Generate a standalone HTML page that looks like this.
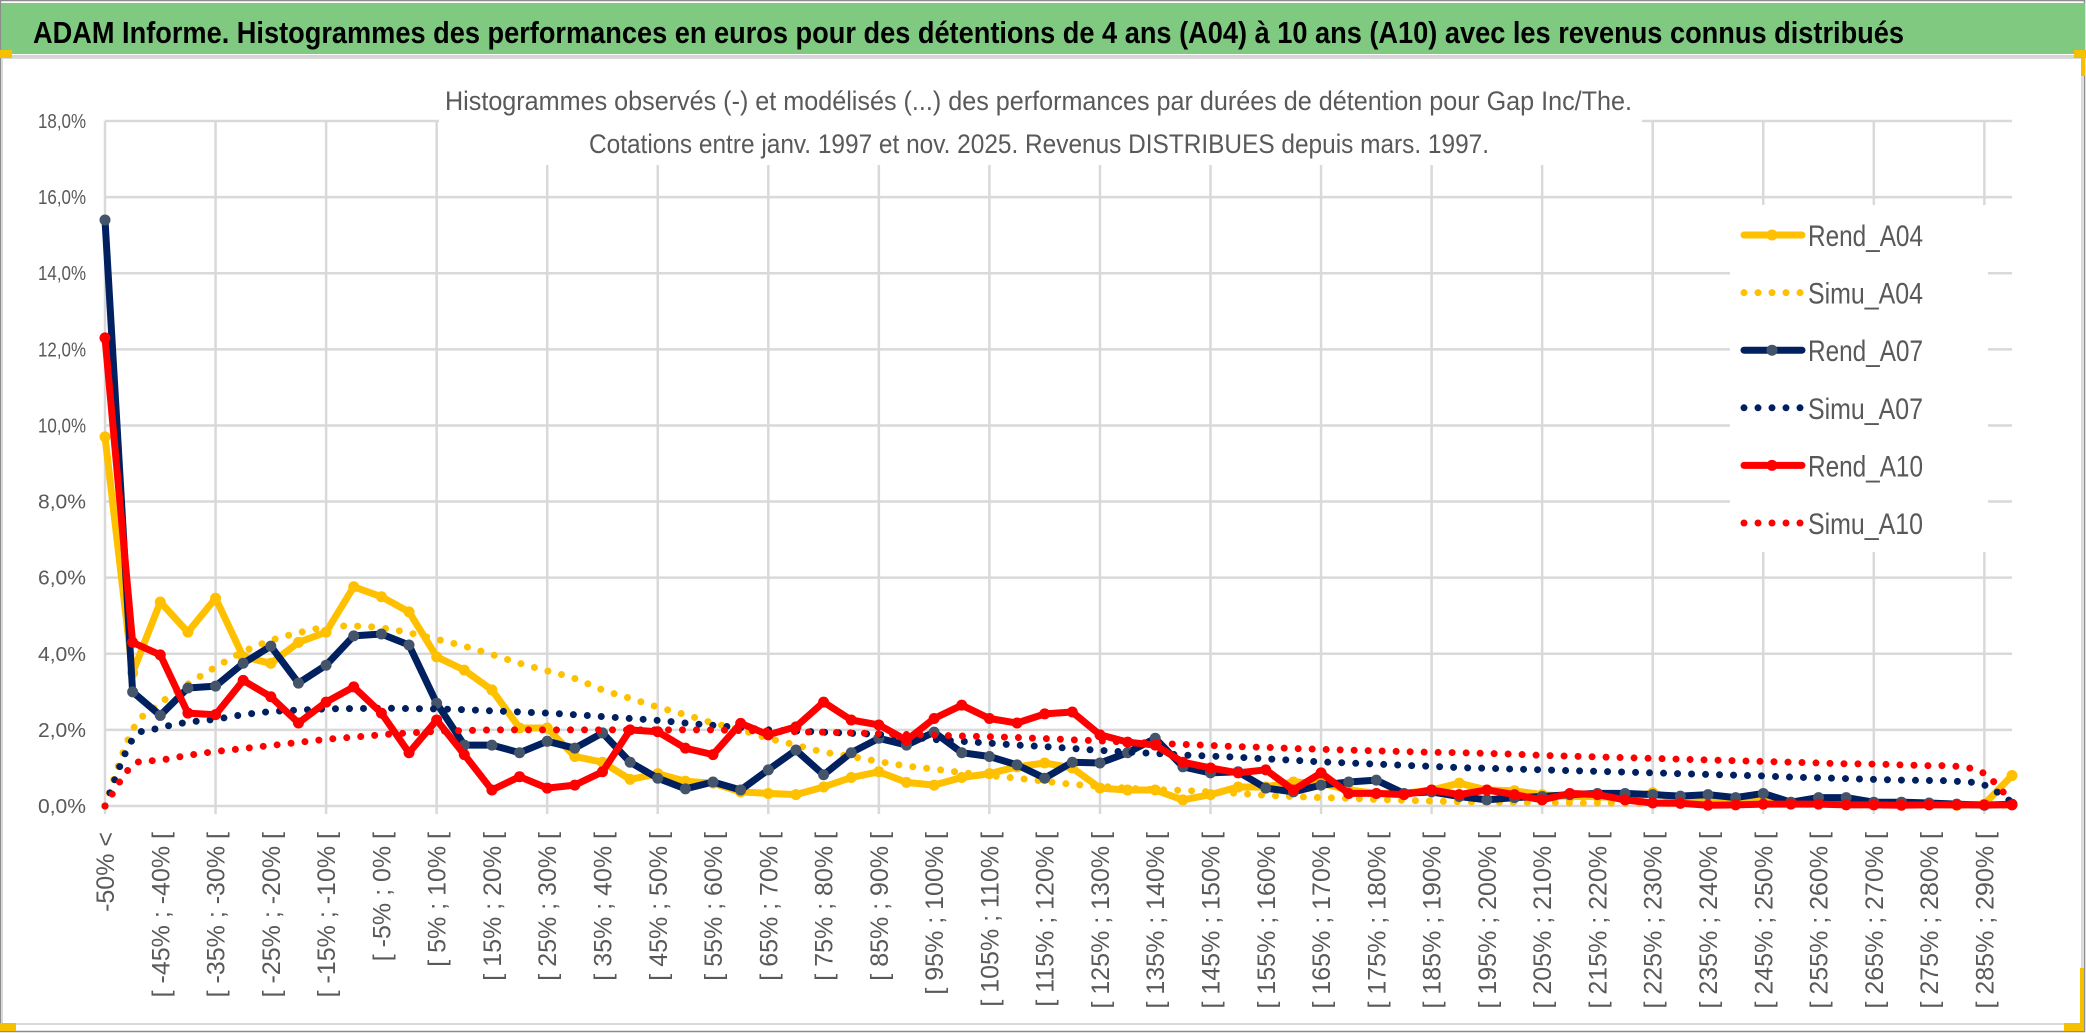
<!DOCTYPE html>
<html><head><meta charset="utf-8"><style>
html,body{margin:0;padding:0;background:#fff;}
svg{display:block;}
</style></head><body>
<svg id="chart" width="2086" height="1033" viewBox="0 0 2086 1033" xmlns="http://www.w3.org/2000/svg" font-family="'Liberation Sans', sans-serif">
<rect x="0" y="0" width="2086" height="1033" fill="#fff"/>
<rect x="0.5" y="0.5" width="2084" height="1031" fill="none" stroke="#8c8c8c" stroke-width="1.5"/>
<rect x="1" y="3" width="2084" height="51" fill="#7fca80"/>
<text x="33" y="43" font-size="31" font-weight="bold" fill="#000" textLength="1871" lengthAdjust="spacingAndGlyphs">ADAM Informe. Histogrammes des performances en euros pour des détentions de 4 ans (A04) à 10 ans (A10) avec les revenus connus distribués</text>
<line x1="1" y1="56.5" x2="2080" y2="56.5" stroke="#d4d4d4" stroke-width="3"/>
<rect x="2" y="58" width="2080" height="966" fill="none" stroke="#d9d9d9" stroke-width="2"/>
<rect x="0" y="50" width="12" height="8" fill="#f5c000"/>
<rect x="2074" y="50" width="12" height="8" fill="#f5c000"/>
<rect x="2081" y="56" width="4" height="20" fill="#f5c000"/>
<rect x="0" y="1023" width="16" height="8" fill="#f5c000"/>
<rect x="2064" y="1023" width="20" height="8" fill="#f5c000"/>
<rect x="2080" y="968" width="4" height="60" fill="#f5c000"/>
<g id="grid"></g>
<rect x="439" y="95" width="1203" height="70" fill="#fff"/>
<text x="445" y="110" font-size="27" fill="#595959" textLength="1187" lengthAdjust="spacingAndGlyphs">Histogrammes observés (-) et modélisés (...) des performances par durées de détention pour Gap Inc/The.</text>
<text x="589" y="153" font-size="27" fill="#595959" textLength="900" lengthAdjust="spacingAndGlyphs">Cotations entre janv. 1997 et nov. 2025. Revenus DISTRIBUES depuis mars. 1997.</text>
<g id="yaxis"></g>
<g id="xaxis"></g>
<g id="series"></g>
<g id="legend"></g>
</svg>
<script>
const yTicks = [0, 2, 4, 6, 8, 10, 12, 14, 16, 18];
const yTickLabels = ["0,0%","2,0%","4,0%","6,0%","8,0%","10,0%","12,0%","14,0%","16,0%","18,0%"];
const categoryLows = [];
for (let k = -55; k <= 290; k += 5) categoryLows.push(k);
const seriesNames = ["Rend_A04","Simu_A04","Rend_A07","Simu_A07","Rend_A10","Simu_A10"];
const rendA04 = [9.7,3.5,5.36,4.57,5.46,3.92,3.75,4.3,4.57,5.76,5.5,5.1,3.92,3.57,3.05,2.05,2.05,1.3,1.15,0.7,0.85,0.65,0.6,0.37,0.33,0.3,0.5,0.75,0.9,0.62,0.55,0.75,0.85,1.03,1.13,1.0,0.47,0.42,0.42,0.16,0.3,0.5,0.5,0.63,0.6,0.42,0.33,0.33,0.42,0.6,0.42,0.4,0.3,0.25,0.25,0.2,0.35,0.15,0.12,0.1,0.12,0.1,0.1,0.1,0.08,0.1,0.05,0.02,0.05,0.8];
const simuA04 = [0,2.0,2.7,3.2,3.65,4.05,4.35,4.55,4.7,4.73,4.68,4.55,4.38,4.2,3.98,3.75,3.55,3.35,3.05,2.83,2.6,2.4,2.18,2.0,1.78,1.6,1.42,1.3,1.17,1.05,0.97,0.88,0.8,0.73,0.65,0.57,0.52,0.47,0.43,0.41,0.37,0.33,0.28,0.25,0.22,0.2,0.17,0.15,0.13,0.11,0.1,0.09,0.09,0.08,0.08,0.07,0.07,0.06,0.06,0.05,0.05,0.05,0.04,0.04,0.04,0.03,0.03,0.03,0.02,0.02];
const rendA07 = [15.4,3.0,2.38,3.1,3.15,3.75,4.2,3.23,3.7,4.47,4.52,4.23,2.7,1.6,1.6,1.4,1.7,1.52,1.92,1.15,0.73,0.45,0.63,0.42,0.95,1.47,0.82,1.4,1.78,1.6,1.94,1.4,1.3,1.08,0.73,1.15,1.13,1.4,1.78,1.03,0.87,0.9,0.47,0.37,0.55,0.63,0.68,0.33,0.37,0.25,0.16,0.22,0.25,0.3,0.33,0.33,0.3,0.26,0.3,0.22,0.33,0.1,0.22,0.22,0.1,0.1,0.08,0.05,0.02,0.05];
const simuA07 = [0,1.75,2.05,2.2,2.28,2.4,2.48,2.52,2.55,2.56,2.57,2.56,2.55,2.53,2.5,2.47,2.44,2.4,2.35,2.3,2.25,2.18,2.12,2.06,2.0,1.97,1.94,1.91,1.88,1.82,1.75,1.7,1.65,1.6,1.56,1.51,1.46,1.42,1.38,1.34,1.31,1.28,1.24,1.2,1.16,1.13,1.1,1.07,1.04,1.01,0.99,0.97,0.95,0.93,0.91,0.89,0.87,0.85,0.83,0.81,0.79,0.76,0.74,0.72,0.7,0.68,0.67,0.65,0.55,0.1];
const rendA10 = [12.3,4.3,3.97,2.44,2.4,3.3,2.87,2.18,2.73,3.13,2.44,1.4,2.26,1.35,0.42,0.77,0.47,0.55,0.9,2.0,1.95,1.52,1.35,2.17,1.87,2.08,2.73,2.26,2.13,1.73,2.3,2.65,2.3,2.18,2.42,2.47,1.87,1.68,1.6,1.15,1.0,0.87,0.95,0.42,0.87,0.33,0.33,0.3,0.42,0.3,0.42,0.3,0.16,0.33,0.3,0.16,0.08,0.07,0.02,0.03,0.05,0.05,0.05,0.03,0.03,0.02,0.03,0.03,0.03,0.03];
const simuA10 = [0,1.07,1.2,1.33,1.43,1.51,1.59,1.67,1.75,1.81,1.87,1.92,1.96,1.98,2.0,2.0,2.0,2.0,2.0,2.0,2.0,2.0,2.0,1.98,1.97,1.95,1.94,1.92,1.9,1.88,1.86,1.84,1.82,1.8,1.77,1.74,1.71,1.68,1.65,1.62,1.59,1.56,1.54,1.51,1.49,1.47,1.45,1.43,1.41,1.4,1.38,1.36,1.33,1.31,1.29,1.27,1.25,1.23,1.21,1.19,1.17,1.15,1.13,1.11,1.1,1.08,1.06,1.04,0.85,0.1];

const NS = "http://www.w3.org/2000/svg";
const X0 = 105, X1 = 2012, Y0 = 806, Y18 = 121;
const n = categoryLows.length;
function xPos(i){ return X0 + i * (X1 - X0) / (n - 1); }
function yPos(v){ return Y0 - v * (Y0 - Y18) / 18; }
function mk(tag, attrs, parent){ const e = document.createElementNS(NS, tag); for (const k in attrs) e.setAttribute(k, attrs[k]); parent.appendChild(e); return e; }
function catLabel(i){ const lo = categoryLows[i]; return i === 0 ? "-50% <" : "[ " + lo + "% ; " + (lo + 5) + "% ["; }

const grid = document.getElementById("grid");
yTicks.forEach(function(t){
  const l = mk("line", {x1: X0, x2: X1, y1: yPos(t), y2: yPos(t), stroke: "#d9d9d9", "stroke-width": 2.5}, grid);
  
  
});
for (let i = 0; i < n; i += 4) {
  const l = mk("line", {x1: xPos(i), x2: xPos(i), y1: Y18, y2: Y0 + 8, stroke: "#d9d9d9", "stroke-width": 2.5}, grid);
  
  
}

const ya = document.getElementById("yaxis");
yTicks.forEach(function(t, k){
  const tx = mk("text", {x: 86, y: yPos(t) + 7, "font-size": 20, fill: "#595959", "text-anchor": "end", textLength: 48, lengthAdjust: "spacingAndGlyphs"}, ya);
  tx.textContent = yTickLabels[k];
  
  
});

const xa = document.getElementById("xaxis");
for (let i = 0; i < n; i += 2) {
  const tx = mk("text", {x: 0, y: 0, "font-size": 25, fill: "#595959", "text-anchor": "end", transform: "translate(" + (xPos(i) + 9) + ",832) rotate(-90)"}, xa);
  tx.textContent = catLabel(i);
  
  
}

function linePath(vals){ return vals.map(function(v, i){ return (i ? "L" : "M") + xPos(i).toFixed(1) + " " + yPos(v).toFixed(1); }).join(" "); }
function smoothPath(vals){
  const p = vals.map(function(v, i){ return [xPos(i), yPos(v)]; });
  let d = "M" + p[0][0] + " " + p[0][1];
  for (let i = 0; i < p.length - 1; i++) {
    const a = p[Math.max(0, i - 1)], b = p[i], c = p[i + 1], e = p[Math.min(p.length - 1, i + 2)];
    const c1x = b[0] + (c[0] - a[0]) / 6, c1y = b[1] + (c[1] - a[1]) / 6;
    const c2x = c[0] - (e[0] - b[0]) / 6, c2y = c[1] - (e[1] - b[1]) / 6;
    d += " C" + c1x.toFixed(1) + " " + c1y.toFixed(1) + " " + c2x.toFixed(1) + " " + c2y.toFixed(1) + " " + c[0].toFixed(1) + " " + c[1].toFixed(1);
  }
  return d;
}
const sg = document.getElementById("series");
function drawRend(vals, color, marker, name){
  const g = mk("g", {}, sg);
  
  
  mk("path", {d: linePath(vals), fill: "none", stroke: color, "stroke-width": 7, "stroke-linejoin": "round"}, g);
  vals.forEach(function(v, i){
    const c = mk("circle", {cx: xPos(i), cy: yPos(v), r: 5.5, fill: marker}, g);
    
    
  });
}
function drawSimu(vals, color, name){
  const p = mk("path", {d: smoothPath(vals), fill: "none", stroke: color, "stroke-width": 7, "stroke-linecap": "round", "stroke-dasharray": "0 14"}, sg);
  
  
}
drawRend(rendA04, "#FFC000", "#FFC000", "rend-a04-line");
drawSimu(simuA04, "#FFC000", "simu-a04-line");
drawRend(rendA07, "#002060", "#44546A", "rend-a07-line");
drawSimu(simuA07, "#002060", "simu-a07-line");
drawRend(rendA10, "#FF0000", "#FF0000", "rend-a10-line");
drawSimu(simuA10, "#FF0000", "simu-a10-line");

const lg = document.getElementById("legend");
mk("rect", {x: 1730, y: 205, width: 258, height: 347, fill: "#fff"}, lg);
const legColors = ["#FFC000","#FFC000","#002060","#002060","#FF0000","#FF0000"];
const legMarkers = ["#FFC000", null, "#44546A", null, "#FF0000", null];
seriesNames.forEach(function(nm, k){
  const y = 235 + k * 57.6;
  const g = mk("g", {}, lg);
  
  
  if (legMarkers[k]) {
    mk("line", {x1: 1744, x2: 1802, y1: y, y2: y, stroke: legColors[k], "stroke-width": 7, "stroke-linecap": "round"}, g);
    mk("circle", {cx: 1772, cy: y, r: 5.5, fill: legMarkers[k]}, g);
  } else {
    mk("line", {x1: 1744, x2: 1802, y1: y, y2: y, stroke: legColors[k], "stroke-width": 7, "stroke-linecap": "round", "stroke-dasharray": "0 14"}, g);
  }
  const t = mk("text", {x: 1808, y: y + 11, "font-size": 30, fill: "#595959", textLength: 115, lengthAdjust: "spacingAndGlyphs"}, g);
  t.textContent = nm;
});
</script>
</body></html>
